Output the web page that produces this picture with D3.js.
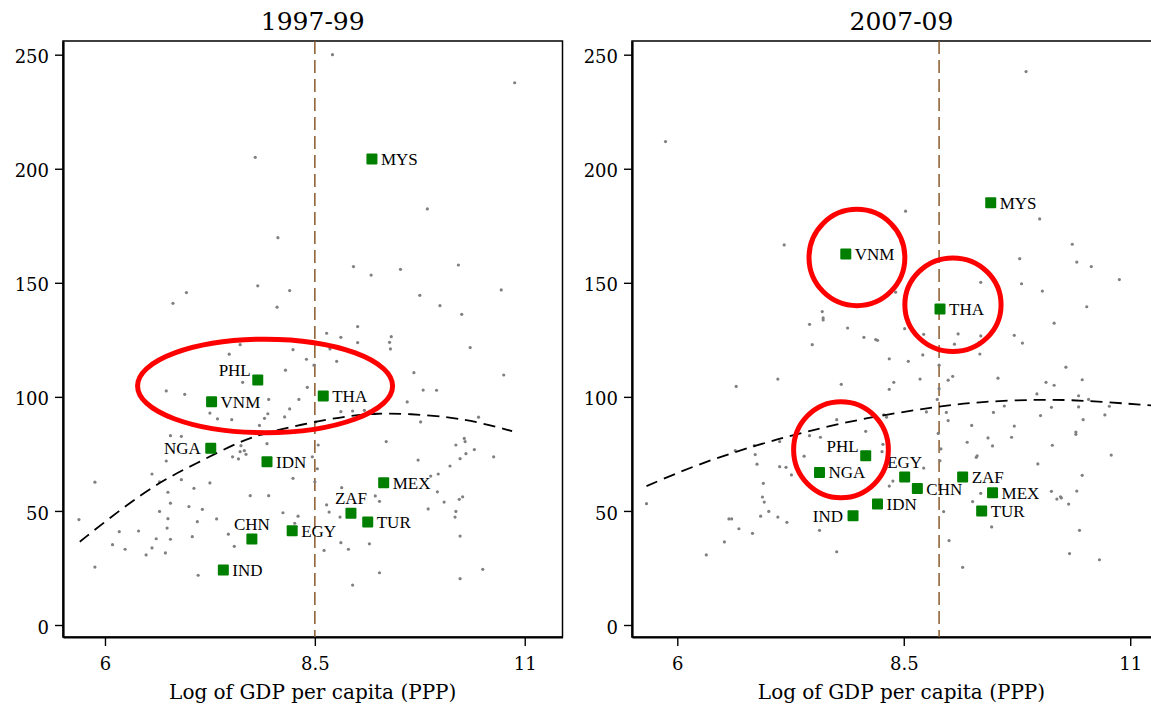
<!DOCTYPE html>
<html>
<head>
<meta charset="utf-8">
<script src="https://cdn.jsdelivr.net/npm/d3@7"></script>
<style>
  body { margin: 0; background: #fff; }
  svg { display: block; }
</style>
</head>
<body>
<div id="chart"></div>
<script>
// ---------- datos ----------
const years = ["1997-99", "2007-09"];
const xTicks = [6, 8.5, 11];
const yTicks = [0, 50, 100, 150, 200, 250];
const xTitle = "Log of GDP per capita (PPP)";

// paises destacados (mismo orden en los dos periodos)
const countries = ["MYS", "PHL", "VNM", "THA", "NGA", "IDN", "MEX", "ZAF", "TUR", "EGY", "CHN", "IND"];
const focus9799 = [[9.18, 204.3], [7.82, 107.4], [7.27, 97.9], [8.60, 100.4], [7.26, 77.5], [7.93, 71.6],
  [9.32, 62.4], [8.93, 49.0], [9.13, 45.2], [8.23, 41.3], [7.75, 37.7], [7.41, 24.1]];
const focus0709 = [[9.46, 185.1], [8.08, 74.2], [7.86, 162.6], [8.90, 138.5], [7.57, 66.9], [8.21, 53.0],
  [9.48, 58.0], [9.15, 64.9], [9.36, 50.0], [8.51, 64.9], [8.65, 59.8], [7.94, 47.9]];

// resto de paises (puntos grises)
const others9799 = [
  [8.71, 250.0], [10.88, 237.7], [7.79, 205.0], [9.84, 182.4], [8.06, 169.8], [8.96, 157.1], [9.17, 153.4],
  [9.52, 155.9], [10.21, 157.8], [7.82, 148.7], [8.20, 146.6], [6.97, 145.7], [10.72, 146.9], [9.75, 144.5],
  [6.81, 141.0], [8.05, 139.3], [7.61, 122.9], [7.48, 118.7], [8.24, 120.7], [8.40, 116.5], [8.15, 111.7],
  [7.64, 106.4], [8.41, 104.2], [6.73, 102.6], [6.95, 101.1], [7.95, 98.9], [8.31, 98.9], [7.25, 92.9],
  [7.34, 90.4], [7.51, 90.0], [7.94, 92.6], [7.90, 90.6], [7.84, 87.5], [8.20, 94.7], [8.14, 91.2],
  [6.78, 83.0], [6.91, 82.7], [7.62, 78.6], [7.66, 76.4], [7.61, 76.0], [7.68, 74.8], [7.52, 73.7],
  [7.59, 72.8], [7.93, 79.5], [6.73, 71.9], [6.56, 66.2], [5.88, 62.6], [6.65, 62.8], [6.91, 63.7],
  [7.25, 62.3], [8.24, 64.3], [6.75, 58.2], [7.06, 59.9], [7.73, 56.7], [7.95, 56.7], [6.78, 53.4],
  [7.00, 51.9], [7.16, 50.7], [6.65, 49.8], [8.12, 49.2], [8.30, 47.7], [5.69, 46.2], [6.75, 46.6],
  [7.10, 45.3], [7.33, 46.5], [8.26, 44.6], [6.17, 40.9], [6.40, 41.2], [6.74, 42.5], [6.61, 37.8],
  [6.78, 37.6], [7.04, 38.7], [7.47, 39.8], [6.09, 35.2], [6.24, 33.2], [6.56, 33.8], [7.54, 34.5],
  [6.49, 30.7], [6.72, 31.6], [5.88, 25.4], [7.11, 21.8],
  [9.99, 140.0], [10.25, 136.2], [9.01, 130.8], [8.64, 127.9], [8.81, 126.1], [9.01, 123.8], [9.41, 126.4],
  [9.39, 123.9], [9.40, 121.0], [8.68, 121.0], [10.35, 121.6], [8.76, 115.6], [8.49, 113.9], [9.68, 110.6],
  [10.75, 109.6], [9.79, 103.0], [9.95, 102.9], [9.60, 97.8], [8.81, 93.5], [8.95, 93.8], [9.09, 94.1],
  [8.51, 89.0], [9.76, 89.0], [10.45, 91.1], [8.54, 78.9], [9.35, 80.4], [10.28, 81.8], [10.29, 80.4],
  [10.18, 78.9], [10.40, 76.9], [10.30, 75.1], [10.23, 72.9], [10.63, 73.7], [8.47, 73.7], [9.73, 72.3],
  [8.53, 68.5], [10.11, 69.7], [8.50, 62.8], [9.97, 66.2], [9.88, 65.3], [8.82, 60.2], [9.22, 56.6],
  [9.27, 54.2], [9.96, 58.4], [10.04, 53.9], [10.22, 55.1], [10.26, 56.2], [8.64, 52.7], [8.67, 49.5],
  [8.80, 47.3], [9.85, 50.9], [10.18, 49.8], [10.17, 47.3], [10.23, 39.0], [8.81, 36.1], [8.90, 33.2],
  [9.15, 35.6], [8.61, 32.7], [9.27, 22.9], [10.50, 24.4], [10.23, 20.3], [8.95, 17.5]
];
const others0709 = [
  [5.87, 211.9], [9.85, 242.6], [8.52, 181.4], [10.00, 178.0], [7.18, 166.6], [10.36, 166.9], [9.78, 160.6],
  [10.41, 159.1], [10.57, 157.1], [10.88, 151.4], [9.35, 150.2], [9.80, 149.6], [8.41, 145.9], [10.03, 146.4],
  [7.60, 137.4], [7.61, 134.6], [7.61, 133.7], [7.46, 131.8], [7.88, 130.2], [8.06, 126.1], [8.19, 125.1],
  [8.21, 124.8], [7.49, 122.9], [7.11, 107.8], [6.65, 104.6], [7.81, 105.5], [8.28, 92.1], [8.31, 91.1],
  [7.76, 90.0], [8.08, 84.9], [7.46, 83.0], [7.58, 82.3], [7.13, 80.4], [6.85, 78.6], [6.64, 76.4],
  [6.86, 74.7], [8.27, 79.2], [8.26, 76.0], [7.79, 78.2], [7.40, 74.0], [6.88, 70.5], [7.13, 69.4],
  [7.20, 69.1], [7.26, 65.8], [6.95, 62.1], [5.66, 53.2], [6.94, 56.1], [6.96, 53.9], [7.01, 49.8],
  [6.92, 47.7], [7.11, 47.3], [7.21, 45.0], [6.57, 46.5], [6.60, 46.5], [6.68, 42.2], [6.83, 40.2],
  [7.57, 41.5], [6.52, 36.4], [6.32, 30.7], [7.76, 32.1],
  [10.52, 139.5], [10.16, 132.3], [8.51, 129.9], [8.72, 127.4], [9.10, 127.6], [9.35, 126.7], [9.72, 127.0],
  [9.81, 123.6], [9.06, 123.1], [9.33, 123.8], [8.71, 118.4], [9.34, 118.8], [8.34, 116.7], [8.55, 115.6],
  [8.89, 113.9], [10.29, 113.0], [9.54, 108.2], [9.04, 109.0], [8.99, 107.3], [8.68, 107.8], [8.39, 106.4],
  [8.34, 103.3], [8.89, 103.6], [10.07, 106.4], [10.16, 105.1], [10.47, 107.5], [9.97, 101.3], [10.43, 100.5],
  [8.87, 98.9], [10.54, 98.9], [8.75, 93.4], [8.97, 93.2], [9.49, 93.2], [9.61, 96.0], [10.13, 95.4],
  [10.43, 95.6], [10.77, 95.9], [8.99, 89.6], [10.01, 91.8], [10.72, 92.1], [10.48, 90.0], [9.25, 87.5],
  [9.72, 87.2], [8.88, 84.0], [9.43, 82.0], [9.69, 82.3], [10.40, 83.6], [10.40, 84.6], [9.20, 80.1],
  [9.48, 78.5], [10.14, 78.8], [8.91, 77.2], [9.31, 74.2], [9.30, 73.5], [8.90, 72.0], [9.98, 70.6],
  [10.79, 74.5], [8.72, 68.8], [10.47, 65.6], [8.34, 60.9], [8.38, 63.1], [9.35, 57.7], [10.13, 58.6],
  [10.41, 58.7], [10.23, 56.2], [10.19, 55.2], [10.24, 55.7], [10.32, 53.0], [9.26, 54.1], [8.94, 49.7],
  [9.47, 43.0], [10.44, 41.5], [9.00, 37.0], [10.33, 31.3], [10.66, 28.6], [9.15, 25.3]
];

// curva ajustada (linea negra discontinua)
const fit9799 = [[5.70, 36.5], [6.18, 50.5], [6.65, 62.8], [7.13, 71.6], [7.61, 80.6], [7.93, 84.4],
  [8.44, 88.7], [8.92, 91.8], [9.24, 92.8], [9.63, 92.6], [10.11, 91.1], [10.43, 89.1], [10.85, 85.0]];
const fit0709 = [[5.66, 60.9], [6.22, 70.4], [6.85, 78.6], [7.40, 84.6], [8.06, 90.7], [8.87, 95.8],
  [9.35, 97.9], [9.97, 98.9], [10.45, 98.6], [11.24, 96.2]];

// linea vertical marron
const refLines = [8.5, 8.89];

// elipses rojas: [centro x, centro y, radio x, radio y] en unidades de datos
const rings9799 = [[7.907, 104.8, 1.519, 20.5]];
const rings0709 = [[7.983, 161.1, 0.529, 21.1], [9.043, 140.4, 0.531, 20.5], [7.807, 76.85, 0.523, 21.05]];

// ---------- dibujo ----------
const W = 1151, H = 706;
const TOP = 41, BOTTOM = 637;
const NUM_FONT = "Georgia, 'DejaVu Serif', serif";
const LBL_FONT = "'Liberation Serif', 'Times New Roman', serif";

const svg = d3.select("#chart").append("svg")
  .attr("width", W).attr("height", H);

// posicion de la etiqueta estilo "reloj" (3 = derecha por defecto)
const clock9799 = {PHL: 11, NGA: 9, ZAF: 12, CHN: 12};
const clock0709 = {PHL: 11, EGY: 12, IND: 9};

const panels = [
  {title: years[0], x0: 63, x1: 562.5, others: others9799, focus: focus9799, fit: fit9799,
   ref: refLines[0], rings: rings9799, clock: clock9799},
  {title: years[1], x0: 632, x1: 1171, others: others0709, focus: focus0709, fit: fit0709,
   ref: refLines[1], rings: rings0709, clock: clock0709}
];

panels.forEach(drawPanel);

function drawPanel(p) {
  const x = d3.scaleLinear().domain([5.5, 11.45]).range([p.x0, p.x1]);
  const y = d3.scaleLinear().domain([-5.26, 256]).range([BOTTOM, TOP]);
  const g = svg.append("g");

  // marco
  g.append("rect")
    .attr("x", p.x0).attr("y", TOP)
    .attr("width", p.x1 - p.x0).attr("height", BOTTOM - TOP)
    .attr("fill", "none").attr("stroke", "#000").attr("stroke-width", 1.5);

  // ejes
  const ya = g.append("g").attr("transform", `translate(${p.x0},0)`)
    .call(d3.axisLeft(y).tickValues(yTicks).tickSize(8).tickSizeOuter(0).tickPadding(6));
  const xa = g.append("g").attr("transform", `translate(0,${BOTTOM})`)
    .call(d3.axisBottom(x).tickValues(xTicks).tickFormat(d => d).tickSize(9).tickSizeOuter(0).tickPadding(8));
  [ya, xa].forEach(a => {
    a.select(".domain").attr("stroke-width", 2.2);
    a.selectAll(".tick line").attr("stroke-width", 1.4);
    a.selectAll("text").attr("font-family", NUM_FONT).attr("font-size", 18).attr("fill", "#000");
  });
  ya.selectAll("text").attr("dy", "0.45em");
  xa.selectAll("text").attr("dy", "0.9em");

  // titulo y titulo del eje x
  const cx = (p.x0 + p.x1) / 2;
  g.append("text").attr("x", cx).attr("y", 30)
    .attr("text-anchor", "middle").attr("font-family", NUM_FONT).attr("font-size", 25)
    .text(p.title);
  g.append("text").attr("x", cx).attr("y", 699)
    .attr("text-anchor", "middle").attr("font-family", NUM_FONT).attr("font-size", 20)
    .text(xTitle);

  // linea de referencia vertical
  g.append("line")
    .attr("x1", x(p.ref)).attr("x2", x(p.ref))
    .attr("y1", TOP).attr("y2", BOTTOM)
    .attr("stroke", "#8b5a2b").attr("stroke-width", 1.5).attr("stroke-dasharray", "13,6");

  // puntos grises
  g.append("g").selectAll("circle")
    .data(p.others)
    .join("circle")
    .attr("cx", d => x(d[0]))
    .attr("cy", d => y(d[1]))
    .attr("r", 1.6)
    .attr("fill", "#808080");

  // curva ajustada
  const line = d3.line().x(d => x(d[0])).y(d => y(d[1])).curve(d3.curveBasis);
  g.append("path")
    .datum(p.fit)
    .attr("d", line)
    .attr("fill", "none").attr("stroke", "#000")
    .attr("stroke-width", 1.8).attr("stroke-dasharray", "12,7");

  // paises destacados
  const focus = p.focus.map((d, i) => ({name: countries[i], x: d[0], y: d[1]}));
  const sq = 11;
  g.append("g").selectAll("rect")
    .data(focus)
    .join("rect")
    .attr("x", d => x(d.x) - sq / 2)
    .attr("y", d => y(d.y) - sq / 2)
    .attr("width", sq).attr("height", sq)
    .attr("rx", 1)
    .attr("fill", "#007f00");

  g.append("g").selectAll("text")
    .data(focus)
    .join("text")
    .attr("font-family", LBL_FONT).attr("font-size", 17).attr("fill", "#000")
    .each(function(d) {
      const pos = p.clock[d.name] || 3;
      const t = d3.select(this);
      let dx = 9, dy = 6, anchor = "start";
      if (pos === 9) { dx = -10; dy = 6; anchor = "end"; }
      if (pos === 11) { dx = -7; dy = -4; anchor = "end"; }
      if (pos === 12) { dx = 0; dy = -9; anchor = "middle"; }
      t.attr("x", x(d.x) + dx).attr("y", y(d.y) + dy).attr("text-anchor", anchor);
    })
    .text(d => d.name);

  // elipses rojas
  g.append("g").selectAll("ellipse")
    .data(p.rings)
    .join("ellipse")
    .attr("cx", d => x(d[0]))
    .attr("cy", d => y(d[1]))
    .attr("rx", d => x(d[0] + d[2]) - x(d[0]))
    .attr("ry", d => y(d[1] - d[3]) - y(d[1]))
    .attr("fill", "none").attr("stroke", "#ff0000").attr("stroke-width", 5);
}
</script>
</body>
</html>
